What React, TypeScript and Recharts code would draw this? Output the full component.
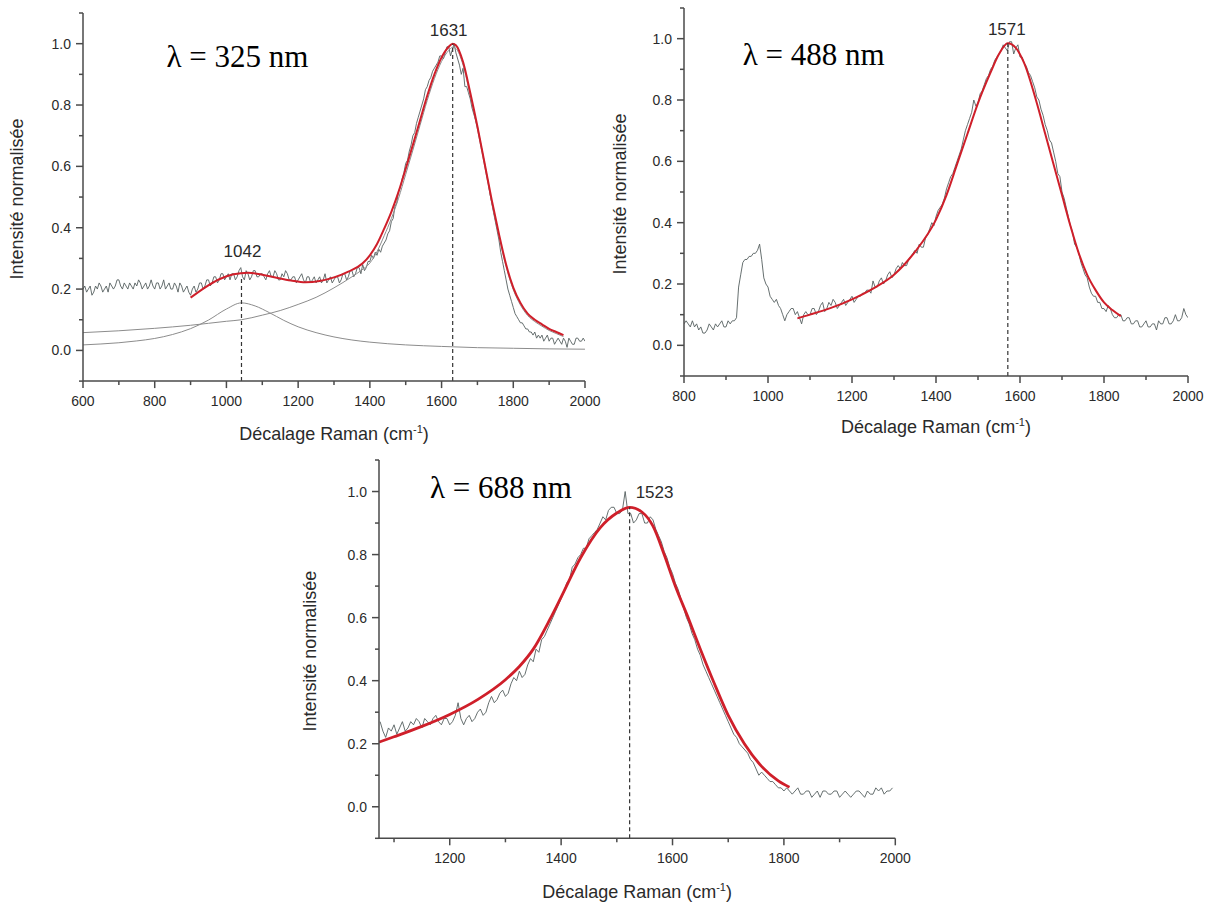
import React from 'react';
import { LineChart, Line, XAxis, YAxis, ReferenceLine, Label } from 'recharts';

// ---------------- λ = 325 nm ----------------
const raw325Start = 600;
const raw325Step = 5;
const raw325Y = [
  0.20, 0.21, 0.19, 0.20, 0.21, 0.18, 0.19, 0.21, 0.20, 0.22, 0.21, 0.19, 0.20, 0.21, 0.19, 0.22, 0.21, 0.20, 0.21, 0.23,
  0.23, 0.21, 0.20, 0.22, 0.21, 0.20, 0.22, 0.21, 0.20, 0.22, 0.21, 0.23, 0.22, 0.20, 0.21, 0.22, 0.20, 0.21, 0.23, 0.21,
  0.20, 0.22, 0.22, 0.20, 0.21, 0.23, 0.20, 0.21, 0.22, 0.20, 0.20, 0.22, 0.21, 0.19, 0.22, 0.21, 0.19, 0.20, 0.21, 0.19,
  0.18, 0.20, 0.21, 0.19, 0.20, 0.22, 0.22, 0.20, 0.21, 0.23, 0.23, 0.21, 0.22, 0.24, 0.24, 0.22, 0.23, 0.25, 0.25, 0.23,
  0.24, 0.25, 0.23, 0.25, 0.25, 0.23, 0.24, 0.26, 0.27, 0.24, 0.23, 0.26, 0.25, 0.23, 0.24, 0.26, 0.26, 0.24, 0.24, 0.25,
  0.25, 0.24, 0.23, 0.25, 0.26, 0.24, 0.24, 0.26, 0.25, 0.23, 0.23, 0.25, 0.24, 0.26, 0.25, 0.23, 0.23, 0.24, 0.24, 0.22,
  0.23, 0.24, 0.25, 0.23, 0.22, 0.24, 0.24, 0.22, 0.23, 0.24, 0.22, 0.23, 0.24, 0.22, 0.23, 0.25, 0.22, 0.23, 0.24, 0.22,
  0.23, 0.24, 0.24, 0.22, 0.23, 0.25, 0.25, 0.23, 0.24, 0.26, 0.26, 0.24, 0.25, 0.27, 0.27, 0.25, 0.28, 0.26, 0.27, 0.29,
  0.29, 0.31, 0.30, 0.32, 0.31, 0.33, 0.32, 0.34, 0.35, 0.36, 0.38, 0.39, 0.42, 0.43, 0.47, 0.48, 0.52, 0.53, 0.56, 0.58,
  0.61, 0.62, 0.65, 0.67, 0.70, 0.71, 0.74, 0.76, 0.78, 0.80, 0.82, 0.85, 0.86, 0.88, 0.89, 0.91, 0.92, 0.93, 0.94, 0.96,
  0.96, 0.95, 0.97, 0.99, 0.99, 0.96, 0.98, 1.00, 0.97, 0.95, 0.93, 0.90, 0.92, 0.86, 0.86, 0.84, 0.82, 0.79, 0.77, 0.75,
  0.73, 0.70, 0.67, 0.64, 0.61, 0.58, 0.55, 0.51, 0.48, 0.45, 0.42, 0.39, 0.36, 0.32, 0.29, 0.26, 0.23, 0.20, 0.18, 0.16,
  0.14, 0.12, 0.11, 0.10, 0.09, 0.09, 0.08, 0.07, 0.07, 0.06, 0.06, 0.05, 0.06, 0.04, 0.05, 0.04, 0.05, 0.03, 0.04, 0.05,
  0.03, 0.04, 0.04, 0.02, 0.03, 0.04, 0.03, 0.02, 0.04, 0.03, 0.01, 0.04, 0.03, 0.02, 0.02, 0.04, 0.04, 0.03, 0.03, 0.04,
  0.03,
];
const fit325X = [900, 940, 980, 1020, 1060, 1100, 1140, 1180, 1220, 1260, 1300, 1340, 1380, 1400, 1420, 1440, 1460, 1480, 1500, 1520, 1540, 1560, 1580, 1600, 1620, 1631, 1640, 1660, 1680, 1700, 1720, 1740, 1760, 1780, 1800, 1820, 1840, 1860, 1880, 1900, 1920, 1940];
const fit325Y = [0.172, 0.205, 0.232, 0.248, 0.253, 0.247, 0.237, 0.228, 0.222, 0.226, 0.238, 0.257, 0.284, 0.31, 0.347, 0.397, 0.452, 0.517, 0.592, 0.67, 0.75, 0.83, 0.90, 0.955, 0.99, 1.0, 0.995, 0.94, 0.84, 0.73, 0.61, 0.49, 0.38, 0.28, 0.205, 0.155, 0.12, 0.10, 0.085, 0.07, 0.06, 0.05];
const band1042X = [600, 650, 700, 750, 800, 850, 900, 950, 1000, 1042, 1080, 1120, 1160, 1200, 1250, 1300, 1350, 1400, 1500, 1600, 1700, 1800, 1900, 2000];
const band1042Y = [0.018, 0.021, 0.025, 0.031, 0.039, 0.052, 0.071, 0.099, 0.135, 0.155, 0.145, 0.123, 0.098, 0.077, 0.058, 0.044, 0.034, 0.027, 0.018, 0.013, 0.009, 0.007, 0.005, 0.004];
const band1631X = [600, 700, 800, 900, 1000, 1042, 1100, 1150, 1200, 1250, 1300, 1350, 1375, 1400, 1420, 1440, 1460, 1480, 1500, 1520, 1540, 1560, 1580, 1600, 1620, 1631, 1640, 1660, 1680, 1700, 1720, 1740, 1760, 1780, 1800, 1820, 1840, 1860, 1880, 1900, 1920, 1940];
const band1631Y = [0.058, 0.064, 0.072, 0.082, 0.095, 0.10, 0.115, 0.13, 0.15, 0.173, 0.204, 0.24, 0.26, 0.285, 0.322, 0.374, 0.43, 0.496, 0.574, 0.653, 0.734, 0.815, 0.886, 0.942, 0.978, 0.988, 0.984, 0.93, 0.83, 0.721, 0.602, 0.482, 0.373, 0.273, 0.198, 0.148, 0.114, 0.094, 0.079, 0.065, 0.055, 0.045];
const peaks325 = [1042, 1631];
const peakTops325 = [0.24, 1.0];
const x325Major = [600, 800, 1000, 1200, 1400, 1600, 1800, 2000];
const x325Minor = [700, 900, 1100, 1300, 1500, 1700, 1900];

// ---------------- λ = 488 nm ----------------
const raw488Start = 800;
const raw488Step = 5;
const raw488Y = [
  0.07, 0.08, 0.07, 0.06, 0.08, 0.06, 0.07, 0.05, 0.06, 0.04, 0.04, 0.05, 0.07, 0.06, 0.05, 0.07, 0.06, 0.07, 0.08, 0.06,
  0.06, 0.08, 0.07, 0.08, 0.08, 0.09, 0.19, 0.23, 0.27, 0.28, 0.28, 0.29, 0.29, 0.30, 0.30, 0.31, 0.33, 0.28, 0.22, 0.20,
  0.19, 0.16, 0.15, 0.14, 0.15, 0.13, 0.12, 0.10, 0.08, 0.10, 0.11, 0.12, 0.12, 0.10, 0.11, 0.09, 0.07, 0.10, 0.11, 0.10,
  0.10, 0.12, 0.12, 0.10, 0.11, 0.13, 0.14, 0.11, 0.12, 0.14, 0.13, 0.15, 0.14, 0.12, 0.13, 0.14, 0.15, 0.13, 0.14, 0.15,
  0.16, 0.14, 0.15, 0.16, 0.16, 0.17, 0.17, 0.18, 0.18, 0.17, 0.21, 0.19, 0.19, 0.21, 0.22, 0.20, 0.21, 0.23, 0.24, 0.22,
  0.23, 0.25, 0.26, 0.25, 0.27, 0.26, 0.26, 0.28, 0.29, 0.30, 0.31, 0.30, 0.33, 0.32, 0.32, 0.35, 0.36, 0.38, 0.40, 0.39,
  0.42, 0.44, 0.45, 0.46, 0.48, 0.51, 0.53, 0.55, 0.56, 0.58, 0.60, 0.62, 0.64, 0.67, 0.70, 0.72, 0.74, 0.76, 0.80, 0.78,
  0.79, 0.82, 0.83, 0.85, 0.87, 0.88, 0.90, 0.91, 0.93, 0.94, 0.95, 0.96, 0.98, 0.97, 0.96, 0.99, 0.99, 0.95, 0.97, 0.98,
  0.94, 0.94, 0.92, 0.91, 0.89, 0.88, 0.86, 0.84, 0.81, 0.80, 0.77, 0.75, 0.72, 0.70, 0.67, 0.66, 0.63, 0.60, 0.56, 0.55,
  0.50, 0.48, 0.45, 0.42, 0.39, 0.37, 0.33, 0.32, 0.30, 0.27, 0.25, 0.23, 0.22, 0.19, 0.17, 0.16, 0.16, 0.14, 0.14, 0.12,
  0.12, 0.11, 0.13, 0.12, 0.10, 0.09, 0.09, 0.10, 0.10, 0.08, 0.08, 0.09, 0.09, 0.07, 0.07, 0.08, 0.08, 0.06, 0.06, 0.07,
  0.08, 0.06, 0.06, 0.07, 0.07, 0.05, 0.08, 0.07, 0.07, 0.09, 0.09, 0.07, 0.07, 0.08, 0.10, 0.08, 0.08, 0.09, 0.12, 0.10,
  0.09,
];
const fit488X = [1070, 1100, 1150, 1200, 1250, 1300, 1350, 1400, 1425, 1450, 1475, 1500, 1530, 1550, 1571, 1590, 1610, 1640, 1660, 1680, 1700, 1720, 1740, 1760, 1780, 1800, 1820, 1840];
const fit488Y = [0.088, 0.10, 0.122, 0.15, 0.185, 0.23, 0.305, 0.41, 0.49, 0.59, 0.69, 0.79, 0.89, 0.95, 0.985, 0.97, 0.92, 0.79, 0.69, 0.59, 0.49, 0.39, 0.30, 0.23, 0.18, 0.14, 0.115, 0.095];
const peaks488 = [1571];
const peakTops488 = [0.985];
const x488Major = [800, 1000, 1200, 1400, 1600, 1800, 2000];
const x488Minor = [900, 1100, 1300, 1500, 1700, 1900];

// ---------------- λ = 688 nm ----------------
const raw688Start = 1075;
const raw688Step = 5;
const raw688Y = [
  0.27, 0.24, 0.22, 0.25, 0.24, 0.26, 0.23, 0.25, 0.27, 0.24, 0.25, 0.27, 0.26, 0.28, 0.27, 0.25, 0.28, 0.27, 0.26, 0.28,
  0.29, 0.27, 0.26, 0.28, 0.28, 0.26, 0.27, 0.29, 0.33, 0.28, 0.26, 0.28, 0.29, 0.27, 0.28, 0.30, 0.31, 0.29, 0.30, 0.33,
  0.35, 0.33, 0.34, 0.36, 0.37, 0.35, 0.36, 0.39, 0.41, 0.40, 0.43, 0.41, 0.42, 0.45, 0.47, 0.46, 0.50, 0.49, 0.53, 0.54,
  0.56, 0.58, 0.60, 0.62, 0.64, 0.66, 0.68, 0.71, 0.72, 0.76, 0.77, 0.79, 0.80, 0.82, 0.82, 0.85, 0.86, 0.87, 0.88, 0.90,
  0.92, 0.91, 0.94, 0.95, 0.95, 0.93, 0.93, 0.94, 1.00, 0.93, 0.93, 0.90, 0.91, 0.93, 0.93, 0.90, 0.90, 0.92, 0.91, 0.88,
  0.86, 0.84, 0.81, 0.79, 0.76, 0.74, 0.71, 0.69, 0.66, 0.63, 0.60, 0.58, 0.55, 0.53, 0.50, 0.48, 0.45, 0.43, 0.41, 0.39,
  0.37, 0.35, 0.33, 0.31, 0.29, 0.27, 0.25, 0.23, 0.22, 0.20, 0.19, 0.18, 0.17, 0.15, 0.14, 0.12, 0.10, 0.11, 0.10, 0.09,
  0.08, 0.08, 0.07, 0.06, 0.06, 0.05, 0.06, 0.05, 0.04, 0.05, 0.06, 0.04, 0.04, 0.05, 0.05, 0.03, 0.04, 0.05, 0.03, 0.05,
  0.05, 0.04, 0.04, 0.05, 0.05, 0.03, 0.04, 0.05, 0.04, 0.03, 0.04, 0.05, 0.05, 0.04, 0.03, 0.05, 0.04, 0.04, 0.06, 0.05,
  0.06, 0.04, 0.05, 0.05, 0.06,
];
const fit688X = [1073, 1100, 1150, 1200, 1250, 1300, 1325, 1350, 1380, 1400, 1435, 1470, 1500, 1523, 1545, 1565, 1585, 1605, 1628, 1650, 1673, 1700, 1729, 1760, 1790, 1810];
const fit688Y = [0.205, 0.222, 0.255, 0.293, 0.34, 0.403, 0.445, 0.50, 0.595, 0.665, 0.79, 0.885, 0.932, 0.95, 0.935, 0.89, 0.80, 0.70, 0.60, 0.50, 0.40, 0.29, 0.20, 0.128, 0.082, 0.062];
const peaks688 = [1523];
const peakTops688 = [0.95];
const x688Major = [1200, 1400, 1600, 1800, 2000];
const x688Minor = [1100, 1300, 1500, 1700, 1900];

// ---------------- shared y axis ----------------
const yMajor = [0, 0.2, 0.4, 0.6, 0.8, 1.0];
const yMinor = [-0.1, 0.1, 0.3, 0.5, 0.7, 0.9, 1.1];

// ---------------- styling ----------------
const AXIS = '#4a4a4a';
const TEXT = '#2a2a2a';
const RAW = '#566060';
const RED = '#cf1f2a';
const BAND = '#8c8c8c';
const SANS = '"Liberation Sans", Arial, Helvetica, sans-serif';
const SERIF = '"Liberation Serif", "Times New Roman", Times, serif';
const YW = 90;
const XH = 70;
const MT = 20;
const MR = 20;

const gridSeries = (start: number, step: number, ys: number[]) => ys.map((y, i) => ({ x: start + step * i, y }));
const pairSeries = (xs: number[], ys: number[]) => xs.map((x, i) => ({ x, y: ys[i] }));
const near = (list: number[], v: number) => list.some((m) => Math.abs(m - v) < 1e-6);

function xTick(majors: number[]) {
  return (p: any) => {
    const v = Number(p.payload && p.payload.value);
    const major = near(majors, v);
    return (
      <g>
        <line x1={p.x} x2={p.x} y1={p.y} y2={p.y + (major ? 7 : 4)} stroke={AXIS} strokeWidth={1.5} />
        {major ? (
          <text x={p.x} y={p.y + 25} textAnchor="middle" fontSize={14} fontFamily={SANS} fill={TEXT}>
            {String(v)}
          </text>
        ) : null}
      </g>
    );
  };
}

function yTick(p: any) {
  const v = Number(p.payload && p.payload.value);
  const major = near(yMajor, v);
  return (
    <g>
      <line x1={p.x} x2={p.x - (major ? 7 : 4)} y1={p.y} y2={p.y} stroke={AXIS} strokeWidth={1.5} />
      {major ? (
        <text x={p.x - 12} y={p.y + 5} textAnchor="end" fontSize={14} fontFamily={SANS} fill={TEXT}>
          {v.toFixed(1)}
        </text>
      ) : null}
    </g>
  );
}

function peakLabel(text: string, dx: number, dy: number, anchor: 'start' | 'middle' | 'end') {
  return (lp: any) => {
    const vb = lp && lp.viewBox;
    if (!vb) return null;
    return (
      <text x={vb.x + dx} y={vb.y + dy} textAnchor={anchor} fontSize={17} fontFamily={SANS} fill={TEXT}>
        {text}
      </text>
    );
  };
}

type PanelProps = {
  left: number;
  top: number;
  plotW: number;
  plotH: number;
  xDomain: [number, number];
  xMajor: number[];
  xMinor: number[];
  yTitleOffset: number;
  xTitleDy: number;
  series: React.ReactNode[];
};

function Panel({ left, top, plotW, plotH, xDomain, xMajor, xMinor, yTitleOffset, xTitleDy, series }: PanelProps) {
  const xTicks = [...xMajor, ...xMinor].sort((a, b) => a - b);
  const yTicks = [...yMajor, ...yMinor].sort((a, b) => a - b);
  const w = plotW + YW + MR;
  const h = plotH + MT + XH;
  return (
    <div style={{ position: 'absolute', left, top, width: w, height: h }}>
      <LineChart width={w} height={h} margin={{ top: MT, right: MR, left: 0, bottom: 0 }}>
        <XAxis
          type="number"
          dataKey="x"
          domain={xDomain}
          ticks={xTicks}
          interval={0}
          allowDataOverflow
          height={XH}
          tickLine={false}
          tickSize={0}
          tickMargin={0}
          tick={xTick(xMajor)}
          axisLine={{ stroke: AXIS, strokeWidth: 1.5 }}
        >
          <Label
            content={(lp: any) => {
              const vb = (lp && lp.viewBox) || { x: YW, y: MT + plotH, width: plotW, height: XH };
              return (
                <text x={vb.x + vb.width / 2} y={vb.y + xTitleDy} textAnchor="middle" fontSize={18} fontFamily={SANS} fill={TEXT}>
                  Décalage Raman (cm
                  <tspan dy={-7} fontSize={11}>-1</tspan>
                  <tspan dy={7}>)</tspan>
                </text>
              );
            }}
          />
        </XAxis>
        <YAxis
          type="number"
          domain={[-0.1, 1.1]}
          ticks={yTicks}
          interval={0}
          allowDataOverflow
          width={YW}
          tickLine={false}
          tickSize={0}
          tickMargin={0}
          tick={yTick}
          axisLine={{ stroke: AXIS, strokeWidth: 1.5 }}
        >
          <Label
            content={(lp: any) => {
              const vb = (lp && lp.viewBox) || { x: 0, y: MT, width: YW, height: plotH };
              const cx = vb.x + vb.width - yTitleOffset + 6;
              const cy = vb.y + vb.height / 2 + 2;
              return (
                <text
                  x={cx}
                  y={cy}
                  transform={`rotate(-90 ${cx} ${cy})`}
                  textAnchor="middle"
                  fontSize={18}
                  fontFamily={SANS}
                  fill={TEXT}
                >
                  Intensité normalisée
                </text>
              );
            }}
          />
        </YAxis>
        {series}
      </LineChart>
    </div>
  );
}

export default function App() {
  const raw325 = gridSeries(raw325Start, raw325Step, raw325Y);
  const fit325 = pairSeries(fit325X, fit325Y);
  const b1042 = pairSeries(band1042X, band1042Y);
  const b1631 = pairSeries(band1631X, band1631Y);
  const raw488 = gridSeries(raw488Start, raw488Step, raw488Y);
  const fit488 = pairSeries(fit488X, fit488Y);
  const raw688 = gridSeries(raw688Start, raw688Step, raw688Y);
  const fit688 = pairSeries(fit688X, fit688Y);

  const dashed = (peaks: number[], tops: number[], labels: Array<[number, number, 'start' | 'middle' | 'end']>) =>
    peaks.map((p, i) => (
      <ReferenceLine
        key={`pk-${p}`}
        segment={[
          { x: p, y: -0.1 },
          { x: p, y: tops[i] },
        ]}
        stroke="#333333"
        strokeWidth={1.2}
        strokeDasharray="4 3"
        ifOverflow="visible"
        label={peakLabel(String(p), labels[i][0], labels[i][1], labels[i][2])}
      />
    ));

  const series325 = [
    <Line key="raw" data={raw325} dataKey="y" type="linear" stroke={RAW} strokeWidth={0.9} dot={false} activeDot={false} isAnimationActive={false} />,
    <Line key="b1042" data={b1042} dataKey="y" type="monotone" stroke={BAND} strokeWidth={1} dot={false} activeDot={false} isAnimationActive={false} />,
    <Line key="b1631" data={b1631} dataKey="y" type="monotone" stroke={BAND} strokeWidth={1} dot={false} activeDot={false} isAnimationActive={false} />,
    <Line key="fit" data={fit325} dataKey="y" type="monotone" stroke={RED} strokeWidth={2} dot={false} activeDot={false} isAnimationActive={false} />,
    ...dashed(peaks325, peakTops325, [
      [1, -20, 'middle'],
      [-4, -8, 'middle'],
    ]),
  ];
  const series488 = [
    <Line key="raw" data={raw488} dataKey="y" type="linear" stroke={RAW} strokeWidth={0.9} dot={false} activeDot={false} isAnimationActive={false} />,
    <Line key="fit" data={fit488} dataKey="y" type="monotone" stroke={RED} strokeWidth={2} dot={false} activeDot={false} isAnimationActive={false} />,
    ...dashed(peaks488, peakTops488, [[-1, -8, 'middle']]),
  ];
  const series688 = [
    <Line key="raw" data={raw688} dataKey="y" type="linear" stroke={RAW} strokeWidth={0.9} dot={false} activeDot={false} isAnimationActive={false} />,
    <Line key="fit" data={fit688} dataKey="y" type="monotone" stroke={RED} strokeWidth={2.8} dot={false} activeDot={false} isAnimationActive={false} />,
    ...dashed(peaks688, peakTops688, [[6, -9, 'start']]),
  ];

  return (
    <div style={{ position: 'absolute', left: 0, top: 0, width: 1213, height: 905, background: '#ffffff', overflow: 'hidden' }}>
      <Panel
        left={83 - YW}
        top={12.6 - MT}
        plotW={502}
        plotH={368.1}
        xDomain={[600, 2000]}
        xMajor={x325Major}
        xMinor={x325Minor}
        yTitleOffset={66}
        xTitleDy={58.5}
        series={series325}
      />
      <Panel
        left={684 - YW}
        top={8 - MT}
        plotW={504}
        plotH={368}
        xDomain={[800, 2000]}
        xMajor={x488Major}
        xMinor={x488Minor}
        yTitleOffset={64}
        xTitleDy={57}
        series={series488}
      />
      <Panel
        left={379 - YW}
        top={459.5 - MT}
        plotW={516.3}
        plotH={378.3}
        xDomain={[1073, 2000]}
        xMajor={x688Major}
        xMinor={x688Minor}
        yTitleOffset={69}
        xTitleDy={60}
        series={series688}
      />
      <svg width={1213} height={905} style={{ position: 'absolute', left: 0, top: 0, pointerEvents: 'none' }}>
        <text x={166.5} y={66.7} fontSize={31} fontFamily={SERIF} fill="#000">λ = 325 nm</text>
        <text x={742.7} y={65} fontSize={31} fontFamily={SERIF} fill="#000">λ = 488 nm</text>
        <text x={430} y={497.7} fontSize={31} fontFamily={SERIF} fill="#000">λ = 688 nm</text>
      </svg>
    </div>
  );
}
